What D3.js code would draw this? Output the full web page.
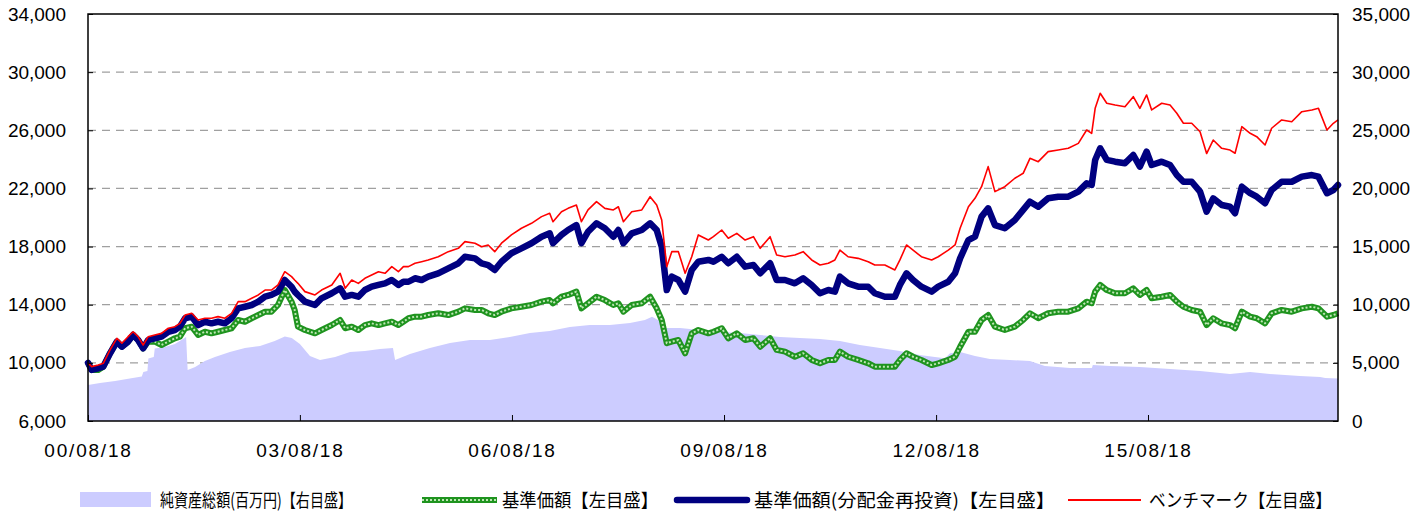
<!DOCTYPE html>
<html>
<head>
<meta charset="utf-8">
<style>
  body { margin: 0; background: #fff; }
  svg { display: block; }
  .axis text { font-family: "Liberation Sans", Arial, sans-serif; font-size: 19px; fill: #000; }
  .axis line { stroke: #000; }
  .legend text { font-family: "Noto Sans CJK JP", sans-serif; font-size: 18.5px; fill: #000; }
</style>
</head>
<body>
<svg width="1425" height="513"></svg>

<script src="https://d3js.org/d3.v7.min.js"></script>
<script>
  // dates shared by the three price lines
  const dates = [
    "2000-08-18","2000-09-06","2000-10-10","2000-11-05","2000-12-10","2001-01-14","2001-02-09","2001-03-13","2001-04-08","2001-05-04",
    "2001-05-30","2001-06-25","2001-07-29","2001-09-02","2001-10-07","2001-11-10","2001-12-06","2002-01-02","2002-02-05","2002-03-10",
    "2002-04-14","2002-05-18","2002-06-21","2002-07-26","2002-08-30","2002-10-03","2002-11-07","2002-12-12","2003-01-15","2003-02-19",
    "2003-03-24","2003-04-27","2003-06-01","2003-07-06","2003-07-22","2003-08-08","2003-09-13","2003-11-04","2003-12-08","2004-01-30",
    "2004-03-13","2004-04-08","2004-05-12","2004-06-15","2004-07-19","2004-08-23","2004-09-27","2004-10-31","2004-12-05","2005-01-08",
    "2005-02-03","2005-03-01","2005-04-04","2005-05-08","2005-06-11","2005-08-02","2005-09-23","2005-11-14","2005-12-18","2006-02-08",
    "2006-03-14","2006-04-17","2006-05-21","2006-06-25","2006-08-15","2006-10-06","2006-11-27","2007-01-18","2007-03-01","2007-03-18",
    "2007-05-01","2007-06-04","2007-07-17","2007-08-12","2007-09-15","2007-10-29","2007-12-11","2008-01-24","2008-02-19","2008-03-16",
    "2008-04-28","2008-06-19","2008-08-01","2008-09-04","2008-09-30","2008-10-26","2008-11-21","2008-12-25","2009-01-29","2009-03-04",
    "2009-04-07","2009-05-29","2009-06-24","2009-08-06","2009-09-09","2009-10-23","2009-12-05","2010-01-17","2010-02-21","2010-04-13",
    "2010-05-17","2010-06-29","2010-08-19","2010-10-01","2010-11-14","2010-12-27","2011-02-08","2011-03-14","2011-04-09","2011-05-21",
    "2011-07-12","2011-09-02","2011-10-06","2011-11-27","2012-01-18","2012-02-13","2012-03-18","2012-04-21","2012-06-03","2012-07-26",
    "2012-08-29","2012-10-20","2012-11-24","2012-12-20","2013-02-01","2013-03-07","2013-04-10","2013-05-14","2013-06-18","2013-08-08",
    "2013-09-29","2013-11-11","2013-12-16","2014-01-28","2014-03-20","2014-05-11","2014-07-02","2014-08-23","2014-10-05","2014-10-31",
    "2014-11-18","2014-12-14","2015-01-17","2015-03-01","2015-04-21","2015-06-03","2015-07-07","2015-08-11","2015-09-06","2015-10-28",
    "2015-12-10","2016-01-14","2016-02-17","2016-03-31","2016-05-13","2016-06-16","2016-07-20","2016-09-02","2016-10-15","2016-11-10",
    "2016-12-15","2017-01-27","2017-03-02","2017-04-14","2017-05-18","2017-07-09","2017-08-30","2017-10-21","2017-12-12","2018-01-15",
    "2018-02-28","2018-04-02","2018-04-26"
  ];

  // 基準価額(分配金再投資) - left axis
  const navReinvest = [
    10000, 9510, 9630, 9740,10660,11460,11110,11460,11920,11570,
    11000,11570,11690,11800,12140,12260,12490,13070,13180,12600,
    12830,12720,12830,12720,13070,13750,13860,13980,14210,14550,
    14670,14900,15700,15240,14900,14670,14210,13980,14440,14790,
    15130,14550,14670,14550,15010,15240,15360,15470,15700,15360,
    15580,15580,15820,15700,15930,16160,16500,16850,17300,17190,
    16850,16730,16390,16960,17540,17880,18230,18680,18910,18230,
    18800,19140,19480,18230,19020,19600,19260,18680,19140,18230,
    18910,19140,19600,19140,17990,15010,15930,15700,14900,16390,
    16960,17080,16960,17300,16850,17300,16620,16730,16160,16850,
    15700,15700,15470,15820,15360,14790,15010,14900,15930,15470,
    15240,15240,14790,14550,14550,15360,16160,15700,15240,14900,
    15240,15580,16160,17190,18450,18680,20060,20630,19480,19260,
    19830,20520,21090,20740,21320,21430,21430,21780,22350,22240,
    23960,24760,23960,23840,23730,24300,23500,24530,23610,23840,
    23610,22920,22460,22460,21780,20400,21320,20860,20740,20290,
    22120,21670,21430,20980,21890,22460,22460,22810,22920,22810,
    21670,21890,22240
  ];

  // 基準価額 - left axis
  const nav = [
    10000, 9510, 9510, 9740,10660,11460,11110,11460,11920,11570,
    11000,11460,11460,11230,11460,11690,11800,12380,12490,11920,
    12140,12030,12140,12260,12380,12950,12830,13070,13290,13520,
    13520,13980,15010,14210,13640,12490,12260,12030,12260,12600,
    12950,12380,12490,12260,12600,12720,12600,12720,12830,12600,
    12830,13070,13180,13180,13290,13410,13290,13520,13750,13640,
    13640,13410,13290,13520,13750,13860,13980,14210,14320,14100,
    14550,14670,14900,13750,14100,14550,14320,13980,14100,13520,
    13980,14100,14550,13750,12950,11350,11460,11570,10660,12030,
    12260,12030,12140,12380,11690,12030,11570,11690,11110,11690,
    10890,10770,10420,10660,10200, 9970,10200,10200,10770,10420,
    10200, 9970, 9740, 9740, 9740,10200,10660,10420,10200, 9850,
     9970,10200,10420,11110,12140,12140,12950,13290,12490,12260,
    12490,12950,13410,13070,13410,13520,13520,13750,14210,14100,
    14900,15360,15010,14790,14790,15130,14670,15010,14440,14550,
    14670,14210,13860,13640,13520,12600,13070,12720,12600,12380,
    13520,13180,13070,12720,13410,13640,13520,13750,13860,13750,
    13180,13290,13410
  ];

  // ベンチマーク - left axis
  const benchmark = [
    10000, 9740, 9850, 9970,10890,11690,11350,11800,12140,11800,
    11230,11800,11920,12030,12380,12490,12720,13290,13410,12950,
    13070,13070,13180,13070,13410,14210,14210,14440,14670,15010,
    15010,15360,16270,15930,15700,15470,14900,14670,15010,15360,
    16160,15130,15700,15470,15820,16040,16270,16160,16620,16270,
    16620,16620,16850,16960,17080,17300,17650,17880,18340,18230,
    17990,18110,17650,18230,18800,19260,19600,20060,20290,19710,
    20400,20630,20860,19710,20520,21090,20630,20520,20740,19710,
    20400,20520,21430,20860,19830,16620,17650,17650,16160,17300,
    18800,18450,18680,19140,18570,18910,18450,18680,17880,18680,
    17420,17300,17420,17650,17080,16730,16850,17080,17760,17300,
    17190,16960,16730,16730,16390,17080,18110,17760,17300,17080,
    17300,17760,18110,19260,20740,21320,22120,23500,21780,22120,
    22700,23040,24070,23840,24530,24640,24760,25100,26020,25790,
    27510,28550,27860,27740,27620,28310,27510,28430,27400,27860,
    27740,27170,26480,26480,25900,24400,25330,24760,24640,24420,
    26250,25790,25560,24990,26140,26710,26590,27280,27400,27510,
    26020,26480,26710
  ];

  // 純資産総額(百万円) - right axis
  const aumDates = [
    "2000-08-18","2000-10-19","2001-01-05","2001-03-22","2001-05-23","2001-05-31","2001-06-21","2001-06-26","2001-07-24","2001-07-29",
    "2001-09-20","2001-11-10","2001-12-22","2002-01-07","2002-01-15","2002-02-23","2002-04-14","2002-06-05","2002-08-21","2002-11-07",
    "2003-01-24","2003-04-10","2003-06-01","2003-07-07","2003-08-18","2003-10-09","2003-11-30","2004-02-16","2004-05-03","2004-07-19",
    "2004-10-05","2004-12-11","2004-12-22","2005-03-09","2005-06-20","2005-10-02","2006-01-13","2006-04-26","2006-08-07","2006-11-19",
    "2007-03-01","2007-06-13","2007-09-24","2008-01-06","2008-04-19","2008-07-05","2008-08-11","2008-09-21","2008-10-02","2009-01-03",
    "2009-04-15","2009-07-28","2009-11-08","2010-02-21","2010-06-03","2010-09-14","2010-12-27","2011-04-09","2011-07-21","2011-11-02",
    "2012-02-13","2012-05-25","2012-08-12","2012-10-03","2012-10-29","2012-12-20","2013-03-07","2013-05-23","2013-09-03","2013-12-16",
    "2014-03-03","2014-07-11","2014-11-01","2014-11-06","2015-02-03","2015-07-07","2015-12-10","2016-05-13","2016-10-15","2017-01-27",
    "2017-05-09","2017-10-12","2018-01-24","2018-02-19","2018-04-26"
  ];
  const aum = [
    3100,3270,3440,3660,3830,4210,4300,5380,5500,6240,
    6360,6620,7050,7220,4390,4640,5160,5500,5930,6280,
    6450,6880,7270,7140,6620,5590,5250,5500,5930,6020,
    6190,6280,5250,5760,6280,6710,6970,6970,7220,7570,
    7740,8080,8260,8260,8430,8690,8970,8600,8000,8000,
    7830,7650,7570,7400,7220,7140,7050,6880,6540,6280,
    6020,5680,5500,5390,5820,5930,5600,5330,5250,5160,
    4730,4560,4560,4820,4730,4640,4470,4300,4040,4210,
    4040,3870,3780,3700,3660
  ];

  const leftTicks = [6000, 10000, 14000, 18000, 22000, 26000, 30000, 34000];
  const rightTicks = [0, 5000, 10000, 15000, 20000, 25000, 30000, 35000];
  const xTicks = ["2000-08-18", "2003-08-18", "2006-08-18", "2009-08-18", "2012-08-18", "2015-08-18"];
  const legendLabels = [
    "純資産総額(百万円)【右目盛】",
    "基準価額【左目盛】",
    "基準価額(分配金再投資)【左目盛】",
    "ベンチマーク【左目盛】"
  ];

  const parse = d3.timeParse("%Y-%m-%d");
  const plotL = 88, plotR = 1338, plotT = 14, plotB = 421;

  const x = d3.scaleTime()
    .domain([parse("2000-08-18"), parse("2018-04-26")])
    .range([plotL, plotR]);
  const yL = d3.scaleLinear().domain([6000, 34000]).range([plotB, plotT]);
  const yR = d3.scaleLinear().domain([0, 35000]).range([plotB, plotT]);

  const svg = d3.select("svg");

  // gridlines (behind everything)
  svg.append("g")
    .selectAll("line")
    .data(leftTicks.slice(1, -1))
    .join("line")
    .attr("x1", plotL).attr("x2", plotR)
    .attr("y1", d => yL(d)).attr("y2", d => yL(d))
    .attr("stroke", "#a0a0a0")
    .attr("stroke-width", 1.2)
    .attr("stroke-dasharray", "8,6");

  // net assets area
  const aumData = aumDates.map((d, i) => ({ date: parse(d), v: aum[i] }));
  svg.append("path")
    .datum(aumData)
    .attr("fill", "#ccccff")
    .attr("d", d3.area().x(d => x(d.date)).y0(yR(0)).y1(d => yR(d.v)));

  const series = vals => dates.map((d, i) => ({ date: parse(d), v: vals[i] }));
  const line = d3.line().x(d => x(d.date)).y(d => yL(d.v));

  // 基準価額: green band with light dots
  svg.append("path").datum(series(nav))
    .attr("fill", "none").attr("stroke", "#1f941f").attr("stroke-width", 6)
    .attr("stroke-linejoin", "round").attr("d", line);
  svg.append("path").datum(series(nav))
    .attr("fill", "none").attr("stroke", "#bfe6b5").attr("stroke-width", 2)
    .attr("stroke-dasharray", "2,2").attr("stroke-linejoin", "round").attr("d", line);

  // 分配金再投資
  svg.append("path").datum(series(navReinvest))
    .attr("fill", "none").attr("stroke", "#000080").attr("stroke-width", 6.5)
    .attr("stroke-linejoin", "round").attr("stroke-linecap", "round").attr("d", line);

  // benchmark
  svg.append("path").datum(series(benchmark))
    .attr("fill", "none").attr("stroke", "#ff0000").attr("stroke-width", 1.6)
    .attr("stroke-linejoin", "round").attr("d", line);

  // axes
  const gl = svg.append("g").attr("class", "axis")
    .attr("transform", `translate(${plotL},0)`)
    .call(d3.axisLeft(yL).tickValues(leftTicks).tickFormat(d3.format(","))
      .tickSizeInner(-5).tickSizeOuter(0).tickPadding(22));
  gl.select(".domain").remove();

  const gr = svg.append("g").attr("class", "axis")
    .attr("transform", `translate(${plotR},0)`)
    .call(d3.axisRight(yR).tickValues(rightTicks).tickFormat(d3.format(","))
      .tickSizeInner(-5).tickSizeOuter(0).tickPadding(14));
  gr.select(".domain").remove();

  const gb = svg.append("g").attr("class", "axis")
    .attr("transform", `translate(0,${plotB})`)
    .call(d3.axisBottom(x).tickValues(xTicks.map(parse)).tickFormat(d3.timeFormat("%y/%m/%d"))
      .tickSizeInner(-6).tickSizeOuter(0).tickPadding(23));
  gb.select(".domain").remove();
  gb.selectAll("text").attr("letter-spacing", "1.8px");

  // frame
  svg.append("rect")
    .attr("x", plotL).attr("y", plotT)
    .attr("width", plotR - plotL).attr("height", plotB - plotT)
    .attr("fill", "none").attr("stroke", "#000").attr("stroke-width", 1.5);

  // legend
  const lg = svg.append("g").attr("class", "legend");
  const ly = 500;
  lg.append("rect").attr("x", 80).attr("y", 492).attr("width", 71).attr("height", 15).attr("fill", "#ccccff");
  lg.append("line").attr("x1", 422).attr("x2", 497).attr("y1", ly).attr("y2", ly)
    .attr("stroke", "#1f941f").attr("stroke-width", 6);
  lg.append("line").attr("x1", 422).attr("x2", 497).attr("y1", ly).attr("y2", ly)
    .attr("stroke", "#bfe6b5").attr("stroke-width", 2).attr("stroke-dasharray", "2,2");
  lg.append("line").attr("x1", 677).attr("x2", 747).attr("y1", ly).attr("y2", ly)
    .attr("stroke", "#000080").attr("stroke-width", 6.5).attr("stroke-linecap", "round");
  lg.append("line").attr("x1", 1068).attr("x2", 1141).attr("y1", ly).attr("y2", ly)
    .attr("stroke", "#ff0000").attr("stroke-width", 2);

  const labelPos = [[160, 192], [502, 156], [754, 301], [1149, 183]];
  lg.selectAll("text")
    .data(legendLabels)
    .join("text")
    .attr("x", (d, i) => labelPos[i][0])
    .attr("y", 507)
    .attr("textLength", (d, i) => labelPos[i][1])
    .attr("lengthAdjust", "spacingAndGlyphs")
    .text(d => d);
</script>
</body>
</html>
